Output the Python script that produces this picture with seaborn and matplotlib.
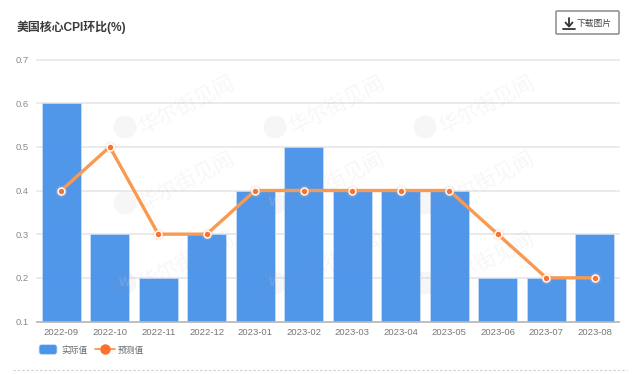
import matplotlib
matplotlib.use('Agg')
import matplotlib.pyplot as plt
import matplotlib.patches as mpatches
from matplotlib.legend_handler import HandlerPatch
from matplotlib.lines import Line2D
import seaborn as sns

months = ['2022-09', '2022-10', '2022-11', '2022-12', '2023-01', '2023-02',
          '2023-03', '2023-04', '2023-05', '2023-06', '2023-07', '2023-08']
actual = [0.6, 0.3, 0.2, 0.3, 0.4, 0.5, 0.4, 0.4, 0.4, 0.2, 0.2, 0.3]
forecast = [0.4, 0.5, 0.3, 0.3, 0.4, 0.4, 0.4, 0.4, 0.4, 0.3, 0.2, 0.2]
y_ticks = [0.1, 0.2, 0.3, 0.4, 0.5, 0.6, 0.7]

BLUE = '#4a94ea'
ORANGE = '#f99a50'
DOT = '#ff6f2e'
W, H = 640, 374

sns.set_style('white')
plt.rcParams['font.family'] = ['Liberation Sans', 'Noto Sans CJK SC', 'DejaVu Sans']


def fx(x):
    return x / W


def fy(y):
    return 1 - y / H


class RoundPatch(HandlerPatch):
    def create_artists(self, legend, orig, xd, yd, width, height, fontsize, trans):
        p = mpatches.FancyBboxPatch((-xd, -yd + height / 2 - 3.6), 13, 7.2,
                                    boxstyle='round,pad=0,rounding_size=2',
                                    facecolor=BLUE, edgecolor='#cfe2f8', lw=0.6,
                                    transform=trans)
        return [p]


fig = plt.figure(figsize=(W / 100, H / 100), dpi=100, facecolor='white')
ax = fig.add_axes([fx(37), fy(321.5), fx(619 - 37), (321.5 - 59.5) / H])

ax.yaxis.grid(True, color='#e6e6e6', lw=1.2, zorder=0, clip_on=False)
ax.set_axisbelow(True)

sns.barplot(x=months, y=actual, color=BLUE, saturation=1, width=0.8, ax=ax,
            edgecolor='#d5e6fa', linewidth=0.4, alpha=0.97, errorbar=None, zorder=2)

# halo behind the points
sns.scatterplot(x=months, y=forecast, color='#ffb27a', s=75, alpha=0.2, linewidth=0, ax=ax, zorder=3)
sns.lineplot(x=months, y=forecast, color=ORANGE, lw=2.4, sort=False, ax=ax, zorder=4,
             errorbar=None, marker='o', markersize=5, markerfacecolor=DOT,
             markeredgecolor='white', markeredgewidth=1.1)

ax.set_xlim(-0.5, 11.5)
ax.set_ylim(0.1, 0.7)
ax.set_yticks(y_ticks)
ax.set_yticklabels([f'{v:.1f}' for v in y_ticks])
ax.tick_params(axis='x', length=0, pad=5, labelsize=6.8, labelcolor='#777777')
ax.tick_params(axis='y', length=0, pad=6, labelsize=6.8, labelcolor='#8a8a8a')
sns.despine(ax=ax, left=True, top=True, right=True)
ax.spines['bottom'].set_color('#b8b8b8')
ax.spines['bottom'].set_linewidth(1.2)

# watermark
for wy in [127, 203, 283]:
    for wx in [125, 275, 425]:
        fig.patches.append(mpatches.Circle((fx(wx) * W, fy(wy) * H), 11.5, facecolor='#8a8a8a',
                                           alpha=0.07, edgecolor='none', zorder=5,
                                           transform=None))
        fig.text(fx(wx), fy(wy), 'W', color='white', fontsize=9, fontweight='bold', alpha=0.12,
                 ha='center', va='center', zorder=6)
        fig.text(fx(wx + 15), fy(wy + 2), '华尔街见闻', color='#8a8a8a', alpha=0.07, fontsize=15,
                 rotation=27, rotation_mode='anchor', ha='left', va='center', zorder=5)

fig.text(fx(17), fy(27.5), '美国核心CPI环比(%)', fontsize=8.6, fontweight='bold',
         color='#3a3a3a', ha='left', va='center')

# download button
fig.patches.append(mpatches.FancyBboxPatch((556, H - 34), 63, 23,
                                           boxstyle='round,pad=0,rounding_size=1',
                                           facecolor='white', edgecolor='#8c8c8c', lw=1.1,
                                           transform=None))
fig.add_artist(Line2D([fx(569), fx(569)], [fy(18), fy(26)], color='#333333', lw=1.3))
fig.add_artist(Line2D([fx(565.5), fx(569), fx(572.5)], [fy(22.5), fy(26.5), fy(22.5)],
                      color='#333333', lw=1.3))
fig.add_artist(Line2D([fx(563), fx(575)], [fy(28.5), fy(28.5)], color='#333333', lw=1.3))
fig.text(fx(577), fy(23), '下载图片', fontsize=6.3, color='#444444', ha='left', va='center')

# legend
handles = [mpatches.Patch(label='实际值'),
           Line2D([0], [0], color=ORANGE, lw=1.3, marker='o', markersize=6.5,
                  markerfacecolor=DOT, markeredgecolor=DOT, label='预测值')]
fig.legend(handles=handles, loc='center left', bbox_to_anchor=(fx(39), fy(350)), frameon=False,
           ncol=2, fontsize=6.3, labelcolor='#666666', handlelength=2.3, handleheight=1.0,
           handletextpad=0.23, columnspacing=0.9, borderpad=0, borderaxespad=0,
           handler_map={mpatches.Patch: RoundPatch()})

# dotted divider at the bottom
fig.add_artist(Line2D([fx(13), fx(627)], [fy(370), fy(370)], color='#cccccc', lw=0.8,
                      linestyle=(0, (2, 2))))

fig.savefig('out.png', dpi=100)
